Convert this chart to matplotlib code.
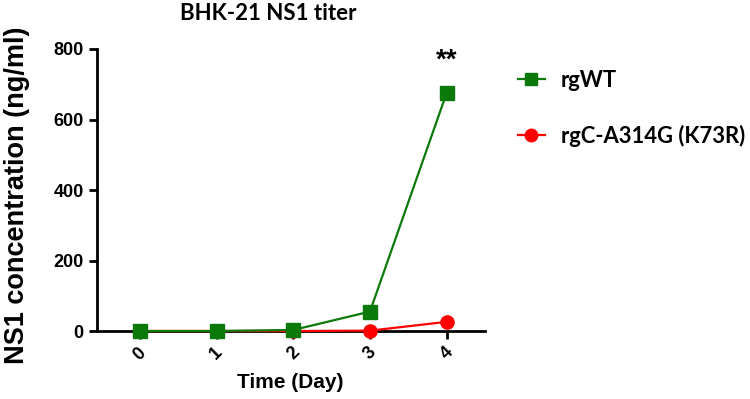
import matplotlib
matplotlib.use("Agg")
import matplotlib.pyplot as plt
from matplotlib.lines import Line2D

plt.rcParams['font.family'] = ['Liberation Sans', 'DejaVu Sans']

days = [0, 1, 2, 3, 4]
day_labels = ['0', '1', '2', '3', '4']
rgwt = [0, 0, 3, 55, 675]
rgc = [0, 0, 0, 1, 26]
title = 'BHK-21 NS1 titer'
xlabel = 'Time (Day)'
ylabel = 'NS1 concentration (ng/ml)'
sig_label = '**'

green = '#0b7a0b'
red = '#ff0000'

fig = plt.figure(figsize=(7.5, 3.99), dpi=100)
ax = fig.add_axes([0.1293, 0.1704, 0.5173, 0.7068])

ax.plot(days, rgc, color=red, marker='o', markersize=9.5, linewidth=1.6,
        clip_on=False, zorder=3)
ax.plot(days, rgwt, color=green, marker='s', markersize=10, linewidth=1.6,
        clip_on=False, zorder=4)

ax.set_xlim(-0.56, 4.5)
ax.set_ylim(0, 800)
ax.set_yticks([0, 200, 400, 600, 800])
ax.set_xticks(days)
ax.set_xticklabels(day_labels, rotation=45, ha='center', va='top')

for s in ['top', 'right']:
    ax.spines[s].set_visible(False)
for s in ['left', 'bottom']:
    ax.spines[s].set_linewidth(2)
ax.tick_params(width=2, length=6, labelsize=13)
for lab in ax.get_xticklabels() + ax.get_yticklabels():
    lab.set_fontweight('bold')

fig.text(290 / 750, 1 - 383 / 399, xlabel, ha='center', va='center',
         fontsize=15, fontweight='bold')
fig.text(17 / 750, 1 - 195 / 399, ylabel, ha='center', va='center',
         rotation=90, fontsize=19.5, fontweight='bold')
fig.text(268 / 750, 1 - 13 / 399, title, ha='center', va='center',
         fontsize=16, fontweight='bold', family=['Lato', 'DejaVu Sans'])

ax.text(days[-1], rgwt[-1] + 55, sig_label, ha='center', va='bottom',
        fontsize=20, fontweight='bold')

handles = [Line2D([], [], color=green, marker='s', markersize=9, linewidth=1.6),
           Line2D([], [], color=red, marker='o', markersize=9, linewidth=1.6)]
fig.legend(handles, ['rgWT', 'rgC-A314G (K73R)'], loc='upper left',
           bbox_to_anchor=(0.664, 0.874), frameon=False,
           prop={'weight': 'bold', 'size': 15.8, 'family': ['Lato', 'DejaVu Sans']},
           handlelength=1.25, labelspacing=1.55, handletextpad=0.72)

fig.savefig('out.png', dpi=100)
